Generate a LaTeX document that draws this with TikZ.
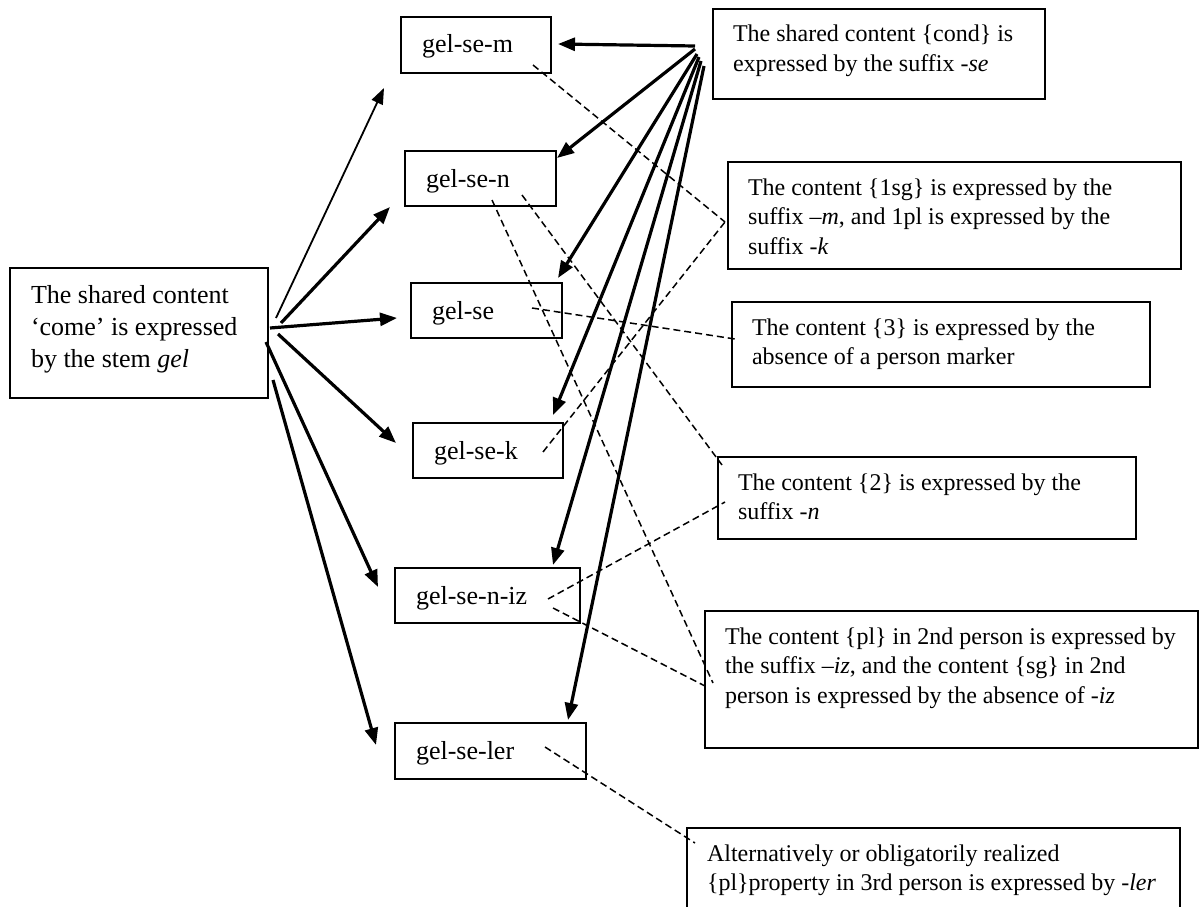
\documentclass[tikz,border=0pt]{standalone}
\usepackage{fontspec}
\setmainfont{Liberation Serif}
\usetikzlibrary{arrows.meta,calc}
\newcommand{\rtext}[3]{\parbox[c][#2][t]{#1}{\fontsize{24}{29.5}\selectfont\raggedright\rule{0pt}{33pt}#3}}
\newcommand{\gtext}[3]{\parbox[c][#2][t]{#1}{\fontsize{26}{31}\selectfont\raggedright\rule{0pt}{36pt}#3}}
\newcommand{\ltext}[3]{\parbox[c][#2][t]{#1}{\fontsize{26}{32}\selectfont\raggedright\rule{0pt}{35pt}#3}}
\begin{document}
\begin{tikzpicture}[x=1pt,y=-1pt,
  bx/.style={draw, line width=1.4pt, rectangle, inner xsep=20pt, inner ysep=0pt, outer sep=0pt},
  gx/.style={draw, line width=1.4pt, rectangle, inner xsep=21pt, inner ysep=0pt, outer sep=0pt},
  thickarrow/.style={line width=3.2pt, -{Triangle[length=17pt,width=13pt]}},
  thinarrow/.style={line width=1.8pt, -{Triangle[length=16pt,width=12pt]}},
  dsh/.style={line width=1.5pt, dash pattern=on 7pt off 4pt}]
\useasboundingbox (0,0) rectangle (1202,907);

% left box
\node[gx] (L) at (139,333) {\ltext{216pt}{130pt}{The shared content\\‘come’ is expressed\\by the stem \textit{gel}}};

% word-form boxes
\node[gx] (m)   at (476,45)    {\gtext{108pt}{56pt}{gel-se-m}};
\node[gx] (n)   at (480.5,178.5) {\gtext{109pt}{55pt}{gel-se-n}};
\node[gx] (se)  at (486.5,310.5) {\gtext{109pt}{55pt}{gel-se}};
\node[gx] (k)   at (488,450.5) {\gtext{108pt}{55pt}{gel-se-k}};
\node[gx] (niz) at (487.5,595.5) {\gtext{143pt}{55pt}{gel-se-n-iz}};
\node[gx] (ler) at (490.5,751) {\gtext{149pt}{56pt}{gel-se-ler}};

% right description boxes
\node[bx] (R1) at (879,54) {\rtext{292pt}{90pt}{The shared content \{cond\} is\\expressed by the suffix \textit{-se}}};
\node[bx] (R2) at (954.5,215.5) {\rtext{413pt}{107pt}{The content \{1sg\} is expressed by the\\suffix \textit{–m}, and 1pl is expressed by the\\suffix -\textit{k}}};
\node[bx] (R3) at (941,344.5) {\rtext{378pt}{85pt}{The content \{3\} is expressed by the\\absence of a person marker}};
\node[bx] (R4) at (927,498) {\rtext{378pt}{82pt}{The content \{2\} is expressed by the\\suffix -\textit{n}}};
\node[bx] (R5) at (951.5,679.5) {\rtext{453pt}{137pt}{The content \{pl\} in 2nd person is expressed by\\the suffix \textit{–iz}, and the content \{sg\} in 2nd\\person is expressed by the absence of \textit{-iz}}};
\node[bx] (R6) at (933.5,898) {\rtext{453pt}{140pt}{Alternatively or obligatorily realized\\\{pl\}property in 3rd person is expressed by \textit{-ler}}};

% hub points at the left box
\coordinate (a1) at ($(L.east)+(8,-15)$);
\coordinate (a2) at ($(L.east)+(13,-10)$);
\coordinate (a3) at ($(L.east)+(2,-5)$);
\coordinate (a4) at ($(L.east)+(10,1)$);
\coordinate (a5) at ($(L.east)+(-2,9)$);
\coordinate (a6) at ($(L.east)+(5,47)$);

\draw[thinarrow]  (a1) -- ($(m.south west)+(-17,15)$);
\draw[thickarrow] (a2) -- ($(n.south west)+(-15,1)$);
\draw[thickarrow] (a3) -- ($(se.west)+(-14,7.5)$);
\draw[thickarrow] (a4) -- ($(k.west)+(-17,-7.5)$);
\draw[thickarrow] (a5) -- ($(niz.west)+(-17,-8.5)$);
\draw[thickarrow] (a6) -- ($(ler.west)+(-19,-6)$);

% hub points at the {cond} box
\coordinate (b1) at ($(R1.west)+(-18,-8)$);
\coordinate (b2) at ($(R1.west)+(-18,-5)$);
\coordinate (b3) at ($(R1.west)+(-16,0)$);
\coordinate (b4) at ($(R1.west)+(-14,3)$);
\coordinate (b5) at ($(R1.west)+(-12,7)$);
\coordinate (b6) at ($(R1.west)+(-9,12)$);

\draw[thickarrow] (b1) -- ($(m.east)+(7,-1)$);
\draw[thickarrow] (b2) -- ($(n.north east)+(1,7)$);
\draw[thickarrow] (b3) -- ($(se.north east)+(-4,-5)$);
\draw[thickarrow] (b4) -- ($(k.north east)+(-10,-8)$);
\draw[thickarrow] (b5) -- ($(niz.north east)+(-27,-3)$);
\draw[thickarrow] (b6) -- ($(ler.north east)+(-18,-3)$);

% dashed links
\draw[dsh] ($(m.south east)+(-18,-8)$) -- ($(R2.west)+(-3,6.5)$);
\draw[dsh] ($(k.east)+(-20,1.5)$) -- ($(R2.west)+(-3,6.5)$);
\draw[dsh] ($(se.east)+(-30,-2.5)$) -- ($(R3.west)+(3,-5.5)$);
\draw[dsh] ($(n.south east)+(-34,-11)$) -- ($(R4.north west)+(4,8)$);
\draw[dsh] ($(n.south)+(11.5,-6)$) -- ($(R5.west)+(8,3.5)$);
\draw[dsh] ($(niz.east)+(-32,3.5)$) -- ($(R4.west)+(7,4)$);
\draw[dsh] ($(niz.east)+(-27,12.5)$) -- ($(R5.west)+(0,6.5)$);
\draw[dsh] ($(ler.east)+(-41,-4)$) -- ($(R6.north west)+(8,15)$);
\end{tikzpicture}
\end{document}
